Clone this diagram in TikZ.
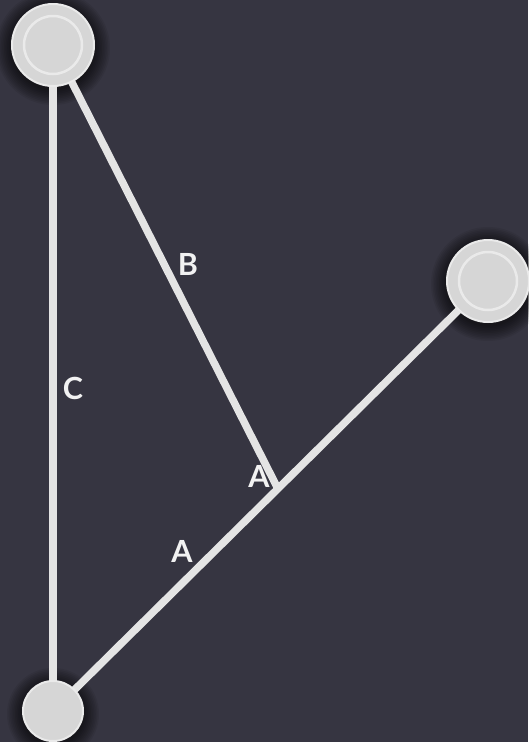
\documentclass[tikz,border=0pt]{standalone}
\usepackage{fontspec}
\setmainfont{Lato}
\usetikzlibrary{calc}
\definecolor{bgcol}{HTML}{363541}
\definecolor{nodefill}{HTML}{D6D6D6}
\definecolor{ringcol}{HTML}{EAEAEA}
\definecolor{linecol}{HTML}{E4E4E4}
\definecolor{labcol}{HTML}{F2F2F2}
\pgfdeclarelayer{back}
\pgfdeclarelayer{glow}
\pgfsetlayers{back,glow,main}
\tikzset{
  bignode/.style={circle, minimum size=82pt, inner sep=0pt, fill=nodefill, draw=ringcol, line width=2pt},
  innerring/.style={circle, minimum size=58pt, inner sep=0pt, draw=ringcol, line width=2.5pt},
  smallnode/.style={circle, minimum size=60pt, inner sep=0pt, fill=nodefill, draw=ringcol, line width=2pt},
  edge/.style={draw=linecol, line width=7.5pt},
  lab/.style={text=labcol, font=\bfseries\fontsize{30.5}{30.5}\selectfont, inner sep=0pt}
}
\begin{document}
\begin{tikzpicture}[x=1pt,y=-1pt]
\begin{pgfonlayer}{back}
\fill[bgcol] (0,0) rectangle (528,742);
\end{pgfonlayer}
\useasboundingbox (0,0) rectangle (528,742);
% nodes
\node[bignode] (tl) at (53,45) {};
\node[innerring] (tlin) at (tl.center) {};
\node[bignode] (r) at (488,281) {};
\node[innerring] (rin) at (r.center) {};
\node[smallnode] (bl) at (53,711) {};
\coordinate (j) at ($(bl.center)!0.517!(r.center)$);
% glows
\begin{pgfonlayer}{glow}
\foreach \n/\rr in {tl/41, r/41, bl/30}{
  \foreach \k in {1,...,10}{
    \fill[black, opacity=0.07] ($(\n.center)+(0,3)$) circle ({\rr+\k*1.6});
  }
}
\end{pgfonlayer}
% connectors
\begin{pgfonlayer}{glow}
\draw[edge] (tl.center) -- (bl.center);
\draw[edge] (tl.center) -- (j);
\draw[edge] (bl.center) -- (r.center);
\end{pgfonlayer}
% labels
\node[lab] (lb) at (188,264) {B};
\node[lab] (lc) at (73,388) {C};
\node[lab] (la1) at (259,476) {A};
\node[lab] (la2) at (182,551) {A};
\end{tikzpicture}
\end{document}
